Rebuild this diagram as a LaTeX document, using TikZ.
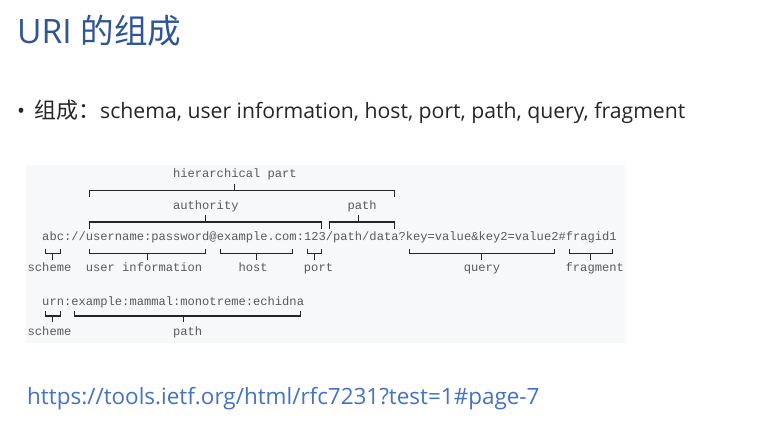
\documentclass[tikz,border=0pt]{standalone}
\usepackage{fontspec}
\setmainfont{Open Sans}
\newfontfamily\cjk{Noto Sans CJK SC}
\newfontfamily\codefont{Liberation Mono}

\definecolor{titleblue}{HTML}{2F5597}
\definecolor{linkblue}{HTML}{4472C4}
\definecolor{bodytext}{HTML}{262626}
\definecolor{panelbg}{HTML}{F6F8FA}
\definecolor{codegray}{HTML}{5A5A5A}
\definecolor{braceink}{HTML}{262626}

% column geometry of the monospaced figure
\newcommand\colL[1]{27.5+7.27*(#1)}
\newcommand\colC[1]{27.5+7.27*(#1+0.5)}

% bracket opening downwards with a tick on top
\newcommand\topbrace[4]{%
  \draw[brace] ({\colC{#1}},{#4+6.5}) |- ({\colC{#2}},#4) -- ({\colC{#2}},{#4+6.5});
  \draw[brace] ({\colC{#3}},#4) -- ({\colC{#3}},{#4-7});}
% bracket opening upwards with a tick below
\newcommand\botbrace[4]{%
  \draw[brace] ({\colC{#1}},{#4-5}) |- ({\colC{#2}},#4) -- ({\colC{#2}},{#4-5});
  \draw[brace] ({\colC{#3}},#4) -- ({\colC{#3}},{#4+6});}

\begin{document}
\begin{tikzpicture}[x=1pt,y=-1pt,
  code/.style={inner sep=0pt,anchor=base west,text=codegray,
    font=\codefont\fontsize{12.12}{14}\selectfont},
  brace/.style={draw=braceink,line width=1.1pt},
  title/.style={inner sep=0pt,anchor=base west,text=titleblue,
    font=\fontsize{33.6}{40}\selectfont},
  body/.style={inner sep=0pt,anchor=base west,text=bodytext,
    font=\fontsize{21.2}{26}\selectfont},
  link/.style={inner sep=0pt,anchor=base west,text=linkblue,
    font=\fontsize{22.45}{26}\selectfont}]
\useasboundingbox (0,0) rectangle (776,432);
\fill[white] (0,0) rectangle (776,432);

% slide heading and bullet
\node[title] (title) at (17,43) {URI {\cjk 的组成}};
\node[body] (bullet) at (17,118.3) {•};
\node[body] (items) at (34,118.3) {{\cjk\fontsize{22}{26}\selectfont 组成：}schema, user information, host, port, path, query, fragment};

% panel with the URI syntax figure
\fill[panelbg] (26,165) rectangle (625,342.5);

\node[code] (hier) at ({\colL{20}},177.5) {hierarchical part};
\node[code] (auth) at ({\colL{20}},209) {authority};
\node[code] (pathA) at ({\colL{44}},209) {path};
\node[code] (uriA) at ({\colL{2}},240) {abc://username:password@example.com:123/path/data?key=value\&key2=value2\#fragid1};
\node[code] (schemeA) at ({\colL{0}},271.5) {scheme};
\node[code] (userinfo) at ({\colL{8}},271.5) {user information};
\node[code] (host) at ({\colL{29}},271.5) {host};
\node[code] (port) at ({\colL{38}},271.5) {port};
\node[code] (query) at ({\colL{60}},271.5) {query};
\node[code] (frag) at ({\colL{74}},271.5) {fragment};

\node[code] (uriB) at ({\colL{2}},305) {urn:example:mammal:monotreme:echidna};
\node[code] (schemeB) at ({\colL{0}},335) {scheme};
\node[code] (pathB) at ({\colL{20}},335) {path};

\topbrace{8}{50}{28}{190.5}
\topbrace{8}{40}{24}{222}
\topbrace{41}{50}{45}{222}

\botbrace{2}{4}{3}{253.5}
\botbrace{8}{24}{16}{253.5}
\botbrace{26}{36}{31}{253.5}
\botbrace{38}{40}{39}{253.5}
\botbrace{52}{72}{62}{253.5}
\botbrace{74}{80}{77}{253.5}

\botbrace{2}{4}{3}{316}
\botbrace{6}{37}{21}{316}

% reference link
\node[link] (ref) at (27,404) {https://tools.ietf.org/html/rfc7231?test=1\#page-7};
\end{tikzpicture}
\end{document}
